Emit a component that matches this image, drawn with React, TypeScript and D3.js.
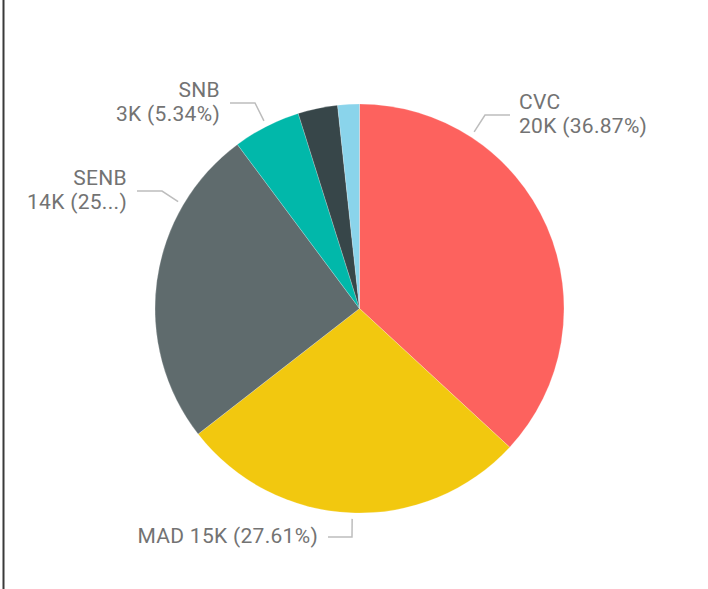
import React, { useRef, useEffect } from "react";
import * as d3 from "d3";

// slice data, clockwise from 12 o'clock
const categories = ["CVC", "MAD", "SENB", "SNB", "Other 1", "Other 2"];
const values = [20020, 14992, 13760, 2900, 1700, 930];
const colors = ["#FD625E", "#F2C80F", "#5F6B6D", "#01B8AA", "#374649", "#8AD4EB"];

// which slices get a label, and how the label is laid out
// angle = where the leader line leaves the pie (degrees, clockwise from top)
const labelCats = ["CVC", "SNB", "SENB", "MAD"];
const labelAngles = [33, -27, -59.5, 182];
const labelElbows: [number, number][] = [[485, 115], [255, 103], [162, 191], [352, 537]];
const labelEnds = [510, 230, 137, 328];
const labelTextX = [519, 220, 127, 318];
const labelLayout = ["two-start", "two-end", "two-end", "one-end"];
const truncated = ["SENB"];

const W = 708;
const H = 589;

const App = () => {
  const ref = useRef<SVGSVGElement>(null);

  useEffect(() => {
    const svg = d3.select(ref.current);
    svg.selectAll("*").remove();

    const cx = 359.5;
    const cy = 308.5;
    const radius = 204.5;
    const total = d3.sum(values);

    const data = categories.map((c, i) => ({ name: c, value: values[i], color: colors[i] }));

    const pie = d3.pie<any>().value((d) => d.value).sort(null);
    const arcs = pie(data);
    const arc = d3.arc<any>().innerRadius(0).outerRadius(radius);

    // left frame edge
    svg.append("line")
      .attr("x1", 3.5).attr("x2", 3.5).attr("y1", 0).attr("y2", H)
      .attr("stroke", "#3a3a3a").attr("stroke-width", 2);

    const g = svg.append("g").attr("transform", `translate(${cx},${cy})`);
    g.selectAll("path")
      .data(arcs)
      .join("path")
      .attr("d", arc)
      .attr("fill", (d) => d.data.color)
      .attr("stroke", "#ffffff")
      .attr("stroke-opacity", 0.35)
      .attr("stroke-width", 0.6);

    const fmtK = (v: number) => `${Math.round(v / 1000)}K`;
    const fmtPct = (v: number) => `${((v / total) * 100).toFixed(2)}%`;

    const labels = svg.append("g")
      .style("font-family", "Roboto, 'DejaVu Sans', sans-serif")
      .style("font-size", "21px")
      .style("letter-spacing", "0.3px")
      .attr("fill", "#737373");

    labelCats.forEach((name, i) => {
      const v = values[categories.indexOf(name)];
      const a = (labelAngles[i] * Math.PI) / 180;
      const r0 = radius + 6;
      const sx = cx + r0 * Math.sin(a);
      const sy = cy - r0 * Math.cos(a);
      const [ex, ey] = labelElbows[i];

      labels.append("polyline")
        .attr("points", `${sx},${sy} ${ex},${ey} ${labelEnds[i]},${ey}`)
        .attr("fill", "none")
        .attr("stroke", "#bdbdbd")
        .attr("stroke-width", 1.5);

      const pct = truncated.includes(name)
        ? `(${fmtPct(v).slice(0, 2)}...)`
        : `(${fmtPct(v)})`;
      const line2 = `${fmtK(v)} ${pct}`;
      const layout = labelLayout[i];
      const anchor = layout.endsWith("end") ? "end" : "start";

      if (layout === "one-end") {
        labels.append("text")
          .attr("x", labelTextX[i]).attr("y", ey + 6)
          .attr("text-anchor", anchor)
          .text(`${name} ${line2}`);
      } else {
        labels.append("text")
          .attr("x", labelTextX[i]).attr("y", ey - 6)
          .attr("text-anchor", anchor)
          .text(name);
        labels.append("text")
          .attr("x", labelTextX[i]).attr("y", ey + 18)
          .attr("text-anchor", anchor)
          .text(line2);
      }
    });
  }, []);

  return (
    <svg
      ref={ref}
      width={W}
      height={H}
      style={{ position: "absolute", left: 0, top: 0, background: "#fff" }}
    />
  );
};

export default App;
